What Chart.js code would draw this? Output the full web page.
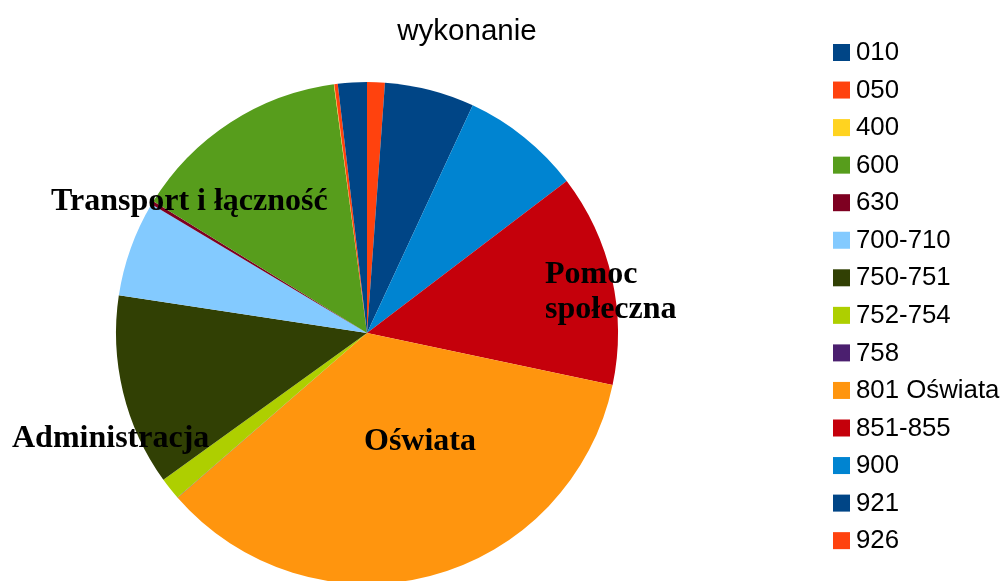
<!DOCTYPE html>
<html>
<head>
<meta charset="utf-8">
<script src="https://cdn.jsdelivr.net/npm/chart.js@4.4.1/dist/chart.umd.min.js"></script>
<style>
    html, body { margin: 0; padding: 0; background: #fff; overflow: hidden; }
    #wrap { width: 1004px; height: 600px; }
</style>
</head>
<body>
<div id="wrap"><canvas id="pieChart" width="1004" height="600"></canvas></div>
<script>
// Data (legend order)
const categories = ['010', '050', '400', '600', '630', '700-710', '750-751', '752-754', '758', '801 Oświata', '851-855', '900', '921', '926'];
const shares = [1.86, 0.22, 0.03, 14.1, 0.22, 6.17, 12.33, 1.44, 0.02, 35.28, 13.67, 7.72, 5.78, 1.14];
const colors = ['#004586', '#ff420e', '#ffd320', '#579d1c', '#7e0021', '#83caff', '#314004', '#aecf00', '#4b1f6f', '#ff950e', '#c5000b', '#0084d1', '#004586', '#ff420e'];

const chartTitle = 'wykonanie';
const sliceLabels = [
    { lines: ['Transport i łączność'], x: 51, y: 210, align: 'left' },
    { lines: ['Pomoc', 'społeczna'], x: 545, y: 283, align: 'left' },
    { lines: ['Oświata'], x: 420, y: 450, align: 'center' },
    { lines: ['Administracja'], x: 12, y: 447, align: 'left' }
];

// Slices run counter-clockwise from 12 o'clock in the original,
// Chart.js goes clockwise, so feed them reversed.
const pieLabels = categories.slice().reverse();
const pieValues = shares.slice().reverse();
const pieColors = colors.slice().reverse();

const textPlugin = {
    id: 'textPlugin',
    afterDraw(chart) {
        const ctx = chart.ctx;
        ctx.save();

        // title
        ctx.fillStyle = '#000';
        ctx.font = '29.5px "Liberation Sans", Arial, sans-serif';
        ctx.textAlign = 'center';
        ctx.textBaseline = 'alphabetic';
        ctx.fillText(chartTitle, 467, 40);

        // slice labels
        ctx.font = 'bold 32px "Liberation Serif", "Times New Roman", serif';
        sliceLabels.forEach(lbl => {
            ctx.textAlign = lbl.align;
            lbl.lines.forEach((line, i) => {
                ctx.fillText(line, lbl.x, lbl.y + i * 35);
            });
        });

        // legend
        ctx.font = '25.8px "Liberation Sans", Arial, sans-serif';
        ctx.textAlign = 'left';
        ctx.textBaseline = 'middle';
        categories.forEach((name, i) => {
            const cy = 52 + i * 37.55;
            ctx.fillStyle = colors[i];
            ctx.fillRect(833, cy - 8, 17, 17);
            ctx.fillStyle = '#000';
            ctx.fillText(name, 856, cy + 1);
        });

        ctx.restore();
    }
};

new Chart(document.getElementById('pieChart'), {
    type: 'pie',
    data: {
        labels: pieLabels,
        datasets: [{
            data: pieValues,
            backgroundColor: pieColors,
            borderWidth: 0
        }]
    },
    options: {
        responsive: false,
        animation: false,
        layout: {
            padding: { left: 116, right: 386, top: 82, bottom: 16 }
        },
        plugins: {
            legend: { display: false },
            title: { display: false },
            tooltip: { enabled: false }
        }
    },
    plugins: [textPlugin]
});
</script>
</body>
</html>
